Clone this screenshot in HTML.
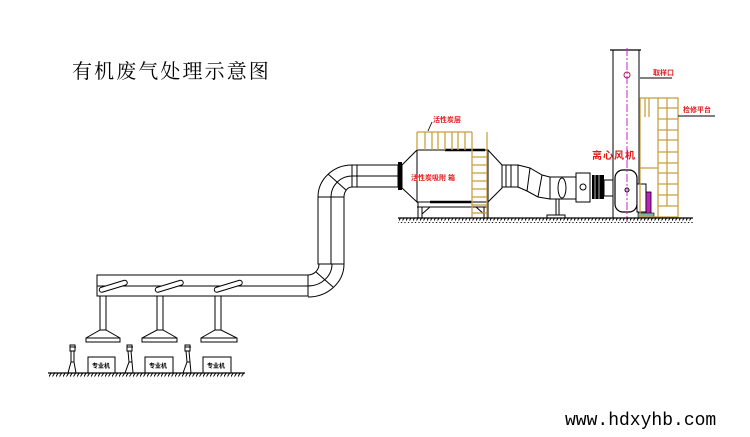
<!DOCTYPE html>
<html><head><meta charset="utf-8"><style>
html,body{margin:0;padding:0;background:#fff;}
svg{display:block;}
.t{font-family:"Liberation Sans","Noto Sans CJK SC",sans-serif;}
</style></head><body>
<svg width="750" height="437" viewBox="0 0 750 437" xmlns="http://www.w3.org/2000/svg">
<defs>
<pattern id="h" width="3.5" height="6" patternUnits="userSpaceOnUse"><path d="M-1,6 L3.5,-1" stroke="#000" stroke-width="1"/></pattern>
</defs>
<rect width="750" height="437" fill="#fff"/>

<!-- title -->
<text x="72" y="78" font-family="'Liberation Serif','Noto Serif CJK SC',serif" font-size="20" letter-spacing="2.1" fill="#000">有机废气处理示意图</text>
<!-- url -->
<text x="565" y="425" font-family="'Liberation Mono',monospace" font-size="18" fill="#000">www.hdxyhb.com</text>

<g fill="none" stroke="#000" stroke-width="1">
<!-- left horizontal duct -->
<rect x="97" y="275" width="211" height="21"/>
<line x1="97" y1="286" x2="308" y2="286"/>
<!-- lower elbow -->
<path d="M308,275 A11,11 0 0 0 319,264"/>
<path d="M308,286 A24,22 0 0 0 332,264"/>
<path d="M308,297 A36,33 0 0 0 344,264"/>
<line x1="316" y1="272" x2="333" y2="287"/>
<!-- vertical pipe -->
<rect x="318" y="197" width="26" height="67"/>
<line x1="331" y1="197" x2="331" y2="264"/>
<!-- upper elbow -->
<path d="M318,197 A34,32 0 0 1 352,165"/>
<path d="M331,197 A21,21 0 0 1 352,176"/>
<path d="M344,197 A8,10 0 0 1 352,187"/>
<line x1="346" y1="190" x2="328" y2="174"/>
<!-- top duct -->
<rect x="352" y="165" width="46" height="22"/>
<line x1="357" y1="165" x2="357" y2="187"/>
<line x1="352" y1="176" x2="398" y2="176"/>
</g>
<rect x="398" y="162" width="4" height="28" fill="#000"/>

<!-- adsorber -->
<g fill="#fff" stroke="#000" stroke-width="1">
<polygon points="402,165 417,150 417,202 402,188"/>
<rect x="417" y="150" width="71" height="52"/>
<polygon points="488,150 502,165 502,188 488,202"/>
</g>
<line x1="445" y1="150" x2="485" y2="150" stroke="#000" stroke-width="2.5"/>
<line x1="430" y1="202" x2="472" y2="202" stroke="#000" stroke-width="2.5"/>
<!-- frame -->
<g stroke="#000" stroke-width="1" fill="none">
<line x1="417" y1="207" x2="488" y2="207"/>
<line x1="418" y1="202" x2="418" y2="218"/>
<line x1="422" y1="207" x2="422" y2="218"/>
<line x1="484" y1="207" x2="484" y2="218"/>
<line x1="488" y1="202" x2="488" y2="218"/>
<line x1="422" y1="214" x2="430" y2="207"/>
<line x1="484" y1="214" x2="476" y2="207"/>
</g>
<!-- gold grid on top -->
<g stroke="#c8a040" stroke-width="1.3" fill="none">
<line x1="417" y1="132" x2="472" y2="132"/>
<line x1="417" y1="132" x2="417" y2="150"/>
<line x1="425" y1="132" x2="425" y2="150"/>
<line x1="432" y1="132" x2="432" y2="150"/>
<line x1="438" y1="132" x2="438" y2="150"/>
<line x1="445" y1="132" x2="445" y2="150"/>
<line x1="452" y1="132" x2="452" y2="150"/>
<line x1="458" y1="132" x2="458" y2="150"/>
<line x1="465" y1="132" x2="465" y2="150"/>
<!-- ladder -->
<line x1="472" y1="132" x2="472" y2="218"/>
<line x1="487" y1="132" x2="487" y2="218"/>
<line x1="472" y1="157" x2="487" y2="157"/>
<line x1="472" y1="165" x2="487" y2="165"/>
<line x1="472" y1="173" x2="487" y2="173"/>
<line x1="472" y1="181" x2="487" y2="181"/>
<line x1="472" y1="189" x2="487" y2="189"/>
<line x1="472" y1="197" x2="487" y2="197"/>
<line x1="472" y1="205" x2="487" y2="205"/>
<line x1="472" y1="213" x2="487" y2="213"/>
</g>
<line x1="432" y1="122" x2="428" y2="131" stroke="#000" stroke-width="0.8"/>
<text x="433" y="122" class="t" font-size="7" font-weight="bold" fill="#e01818">活性炭层</text>
<text x="411" y="180" class="t" font-size="7" font-weight="bold" fill="#e01818">活性炭吸附 箱</text>

<!-- duct from adsorber to fan -->
<g fill="#fff" stroke="#000" stroke-width="1">
<rect x="502" y="165" width="16" height="22"/>
<path d="M518,165 L530,168 L542,175 L550,177 L550,199 L538,197 L527,191 L518,187 Z"/>
<rect x="550" y="177" width="26" height="22"/>
</g>
<g stroke="#000" stroke-width="1" fill="none">
<line x1="506" y1="165" x2="506" y2="187"/>
<line x1="511" y1="165" x2="511" y2="187"/>
<line x1="530" y1="168" x2="527" y2="191"/>
<line x1="542" y1="175" x2="538" y2="197"/>
<ellipse cx="562" cy="188" rx="4" ry="10"/>
<line x1="556" y1="199" x2="556" y2="216"/>
<line x1="559" y1="199" x2="559" y2="216"/>
<rect x="547" y="215" width="18" height="3" fill="#fff"/>
<rect x="576" y="173" width="14" height="29" fill="#fff"/>
<circle cx="583" cy="187" r="3"/>
<rect x="604" y="180" width="12" height="16" fill="#fff"/>
</g>
<rect x="592" y="175" width="12" height="24" fill="#000"/>
<line x1="595" y1="175" x2="595" y2="199" stroke="#fff" stroke-width="0.7"/>
<line x1="599" y1="175" x2="599" y2="199" stroke="#fff" stroke-width="0.7"/>

<!-- stack -->
<rect x="613" y="50" width="26" height="168" fill="#fff" stroke="#000" stroke-width="1"/>
<line x1="610" y1="50" x2="641" y2="50" stroke="#000" stroke-width="1.3"/>
<!-- fan housing -->
<rect x="615" y="170" width="22" height="42" rx="8" fill="#fff" stroke="#000" stroke-width="1.2"/>
<circle cx="627" cy="190" r="2" fill="none" stroke="#000"/>
<rect x="637" y="184" width="9" height="28" fill="#fff" stroke="#000" stroke-width="1"/>
<rect x="646" y="192" width="5" height="24" fill="#c020c0" stroke="#000" stroke-width="0.8"/>
<rect x="638" y="213" width="16" height="5" fill="#7fb0b0" stroke="#000" stroke-width="0.6"/>
<line x1="627" y1="48" x2="627" y2="222" stroke="#d020d0" stroke-width="1" stroke-dasharray="8,2,2,2"/>
<circle cx="627" cy="75" r="3" fill="none" stroke="#a02060" stroke-width="1"/>

<!-- platform gold -->
<g stroke="#c8a040" stroke-width="1.3" fill="none">
<rect x="640" y="98" width="38" height="119"/>
<line x1="658" y1="98" x2="658" y2="217"/>
<line x1="667" y1="98" x2="667" y2="206"/>
<line x1="645" y1="98" x2="645" y2="117"/>
<line x1="649" y1="98" x2="649" y2="117"/>
<line x1="640" y1="168" x2="658" y2="168"/>
<line x1="658" y1="108" x2="678" y2="108"/>
<line x1="658" y1="119" x2="678" y2="119"/>
<line x1="658" y1="130" x2="678" y2="130"/>
<line x1="658" y1="140" x2="678" y2="140"/>
<line x1="658" y1="152" x2="678" y2="152"/>
<line x1="658" y1="163" x2="678" y2="163"/>
<line x1="658" y1="173" x2="678" y2="173"/>
<line x1="658" y1="184" x2="678" y2="184"/>
<line x1="658" y1="195" x2="678" y2="195"/>
<line x1="658" y1="206" x2="678" y2="206"/>
</g>

<!-- labels right -->
<line x1="640" y1="78" x2="672" y2="78" stroke="#000" stroke-width="1"/>
<text x="653" y="75" class="t" font-size="7" font-weight="bold" fill="#e01818">取样口</text>
<line x1="678" y1="116" x2="715" y2="116" stroke="#000" stroke-width="1"/>
<text x="683" y="112" class="t" font-size="7" font-weight="bold" fill="#e01818">检修平台</text>
<text x="592" y="159" class="t" font-size="10" font-weight="bold" letter-spacing="1" fill="#e01818">离心风机</text>

<!-- right ground -->
<line x1="398" y1="218" x2="693" y2="218" stroke="#000" stroke-width="1.2"/>
<rect x="398" y="218" width="295" height="5" fill="url(#h)"/>

<!-- branches and hoods -->
<g fill="#fff" stroke="#000" stroke-width="1">
<rect x="100" y="287" width="29" height="5" rx="2.5" transform="rotate(-17 103 292)"/>
<rect x="156" y="287" width="29" height="5" rx="2.5" transform="rotate(-17 159 292)"/>
<rect x="215" y="287" width="29" height="5" rx="2.5" transform="rotate(-17 218 292)"/>
<path d="M100,296 L100,330 M106,296 L106,330"/>
<polygon points="100,330 106,330 120,338 120,342 86,342 86,338"/>
<path d="M157,296 L157,330 M163,296 L163,330"/>
<polygon points="157,330 163,330 177,338 177,342 142,342 142,338"/>
<path d="M215,296 L215,330 M221,296 L221,330"/>
<polygon points="215,330 221,330 237,338 237,342 201,342 201,338"/>
<line x1="86" y1="338" x2="120" y2="338"/>
<line x1="142" y1="338" x2="177" y2="338"/>
<line x1="201" y1="338" x2="237" y2="338"/>
<!-- machines -->
<rect x="88" y="357" width="27" height="16"/>
<rect x="145" y="357" width="28" height="16"/>
<rect x="203" y="357" width="28" height="16"/>
</g>
<text x="92" y="368" class="t" font-size="6" font-weight="bold" fill="#000">专业机</text>
<text x="149" y="368" class="t" font-size="6" font-weight="bold" fill="#000">专业机</text>
<text x="207" y="368" class="t" font-size="6" font-weight="bold" fill="#000">专业机</text>

<!-- workers -->
<g fill="none" stroke="#000" stroke-width="1">
<g transform="translate(73,0)">
<rect x="-3" y="345" width="5" height="6"/><line x1="-3" y1="347" x2="3" y2="347"/>
<path d="M-2,351 L-2,362 L-5,373 M1,351 L1,362 L3,373 M-2,362 L1,362"/>
</g>
<g transform="translate(130,0)">
<rect x="-3" y="345" width="5" height="6"/><line x1="-3" y1="347" x2="3" y2="347"/>
<path d="M-2,351 L-1,362 L-5,373 M1,351 L2,362 L3,373 M-1,362 L2,362"/>
</g>
<g transform="translate(188,0)">
<rect x="-3" y="345" width="5" height="6"/><line x1="-3" y1="347" x2="3" y2="347"/>
<path d="M-2,351 L-1,362 L-5,373 M1,351 L2,362 L3,373 M-1,362 L2,362"/>
</g>
</g>

<!-- left ground -->
<line x1="48" y1="373" x2="245" y2="373" stroke="#000" stroke-width="1.2"/>
<rect x="48" y="373" width="197" height="5" fill="url(#h)"/>
</svg>
</body></html>
